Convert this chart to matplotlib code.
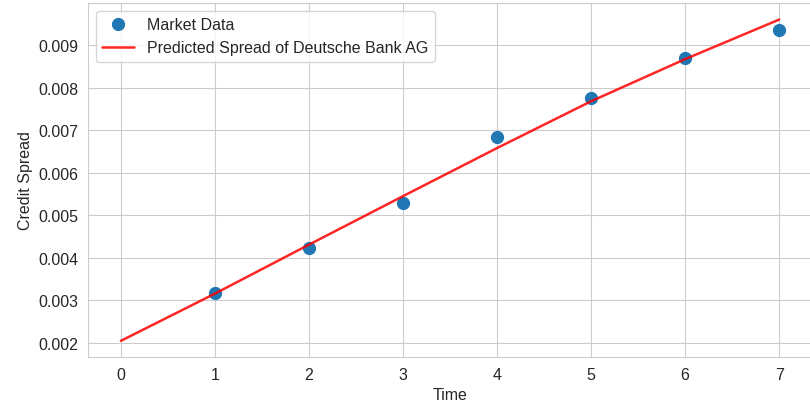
import matplotlib
matplotlib.use('Agg')
import matplotlib.pyplot as plt
import seaborn as sns
import numpy as np

sns.set_style('whitegrid')
plt.rcParams['font.family'] = ['Liberation Sans', 'DejaVu Sans']

# market observations
tiempos = [1, 2, 3, 4, 5, 6, 7]
spreads = [0.00318, 0.00423, 0.00530, 0.00684, 0.00776, 0.00869, 0.00936]

# model curve
tiempoPred = [0, 1, 2, 3, 4, 5, 6, 7]
spreadPred = [0.00205, 0.00316, 0.00431, 0.00545, 0.00658, 0.00768, 0.00867, 0.00960]

fig = plt.figure(figsize=(8.1, 4.14), dpi=100)
ax = fig.add_axes([88 / 810, 56 / 414, 724 / 810, 354 / 414])

ax.plot(tiempos, spreads, 'o', color='#1f77b4', markersize=8.5, label='Market Data')
ax.plot(tiempoPred, spreadPred, color='red', alpha=0.85, linewidth=1.8,
        label='Predicted Spread of Deutsche Bank AG')

ax.set_xlim(-0.35, 7.35)
ax.set_ylim(0.00167, 0.00999)
ax.set_yticks([0.002, 0.003, 0.004, 0.005, 0.006, 0.007, 0.008, 0.009])
ax.set_xlabel('Time', fontsize=11.5)
ax.set_ylabel('Credit Spread', fontsize=11.5)
ax.tick_params(labelsize=11.5)
ax.legend(loc='upper left', fontsize=11.5)

plt.savefig('out.png', dpi=100)
